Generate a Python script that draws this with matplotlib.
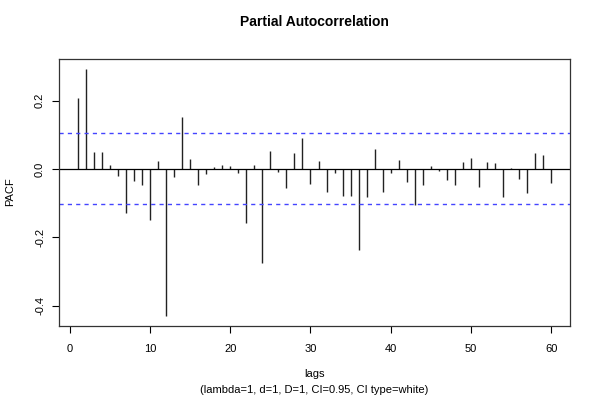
import matplotlib
matplotlib.use("Agg")
import matplotlib.pyplot as plt
import numpy as np

plt.rcParams['font.family'] = ['Liberation Sans', 'DejaVu Sans']

lags = list(range(1, 61))
pacf = [0.209, 0.293, 0.049, 0.049, 0.012, -0.022, -0.128, -0.035, -0.048, -0.149,
        0.023, -0.431, -0.025, 0.151, 0.029, -0.048, -0.015, 0.005, 0.011, 0.010,
        -0.013, -0.159, 0.012, -0.276, 0.053, -0.008, -0.056, 0.047, 0.091, -0.044,
        0.023, -0.069, -0.011, -0.078, -0.078, -0.238, -0.081, 0.058, -0.069, -0.011,
        0.026, -0.037, -0.107, -0.047, 0.009, -0.005, -0.032, -0.047, 0.020, 0.032,
        -0.052, 0.019, 0.017, -0.081, 0.003, -0.029, -0.071, 0.047, 0.041, -0.040]
ci = 0.104
xticks = [0, 10, 20, 30, 40, 50, 60]
yticks = [-0.4, -0.2, 0.0, 0.2]
ytick_labels = ["-0.4", "-0.2", "0.0", "0.2"]

fig = plt.figure(figsize=(6, 4), dpi=100)
ax = fig.add_axes([59/600, 1-326/400, (570-59)/600, (326-59)/400])

ax.vlines(lags, 0, pacf, colors='#222222', linewidth=1.0)
ax.axhline(0, color='black', linewidth=0.9)
for c in (ci, -ci):
    ax.axhline(c, color='#4444ff', linewidth=1.0, linestyle=(0, (3, 3)))

xr = max(lags) - min(lags)
ax.set_xlim(min(lags) - 0.04*xr, max(lags) + 0.04*xr)
yr = max(pacf) - min(pacf)
ax.set_ylim(min(pacf) - 0.04*yr, max(pacf) + 0.04*yr)

ax.set_xticks(xticks)
ax.set_xticklabels([str(t) for t in xticks], fontsize=8)
ax.set_yticks(yticks)
ax.set_yticklabels(ytick_labels, fontsize=8, rotation=90, va='center')
ax.tick_params(direction='out', length=5, width=0.8, pad=8)
ax.tick_params(axis='y', pad=5)
for s in ax.spines.values():
    s.set_linewidth(0.9)
    s.set_color('#333333')

fig.text(314.5/600, 1-22/400, "Partial Autocorrelation", ha='center', va='center',
         fontsize=10, fontweight='bold')
fig.text(314.5/600, 1-374/400, "lags", ha='center', va='center', fontsize=8)
fig.text(314.5/600, 1-390/400, "(lambda=1, d=1, D=1, CI=0.95, CI type=white)",
         ha='center', va='center', fontsize=8)
fig.text(10/600, 1-192/400, "PACF", ha='center', va='center', fontsize=8, rotation=90)

fig.savefig("out.png", dpi=100)
